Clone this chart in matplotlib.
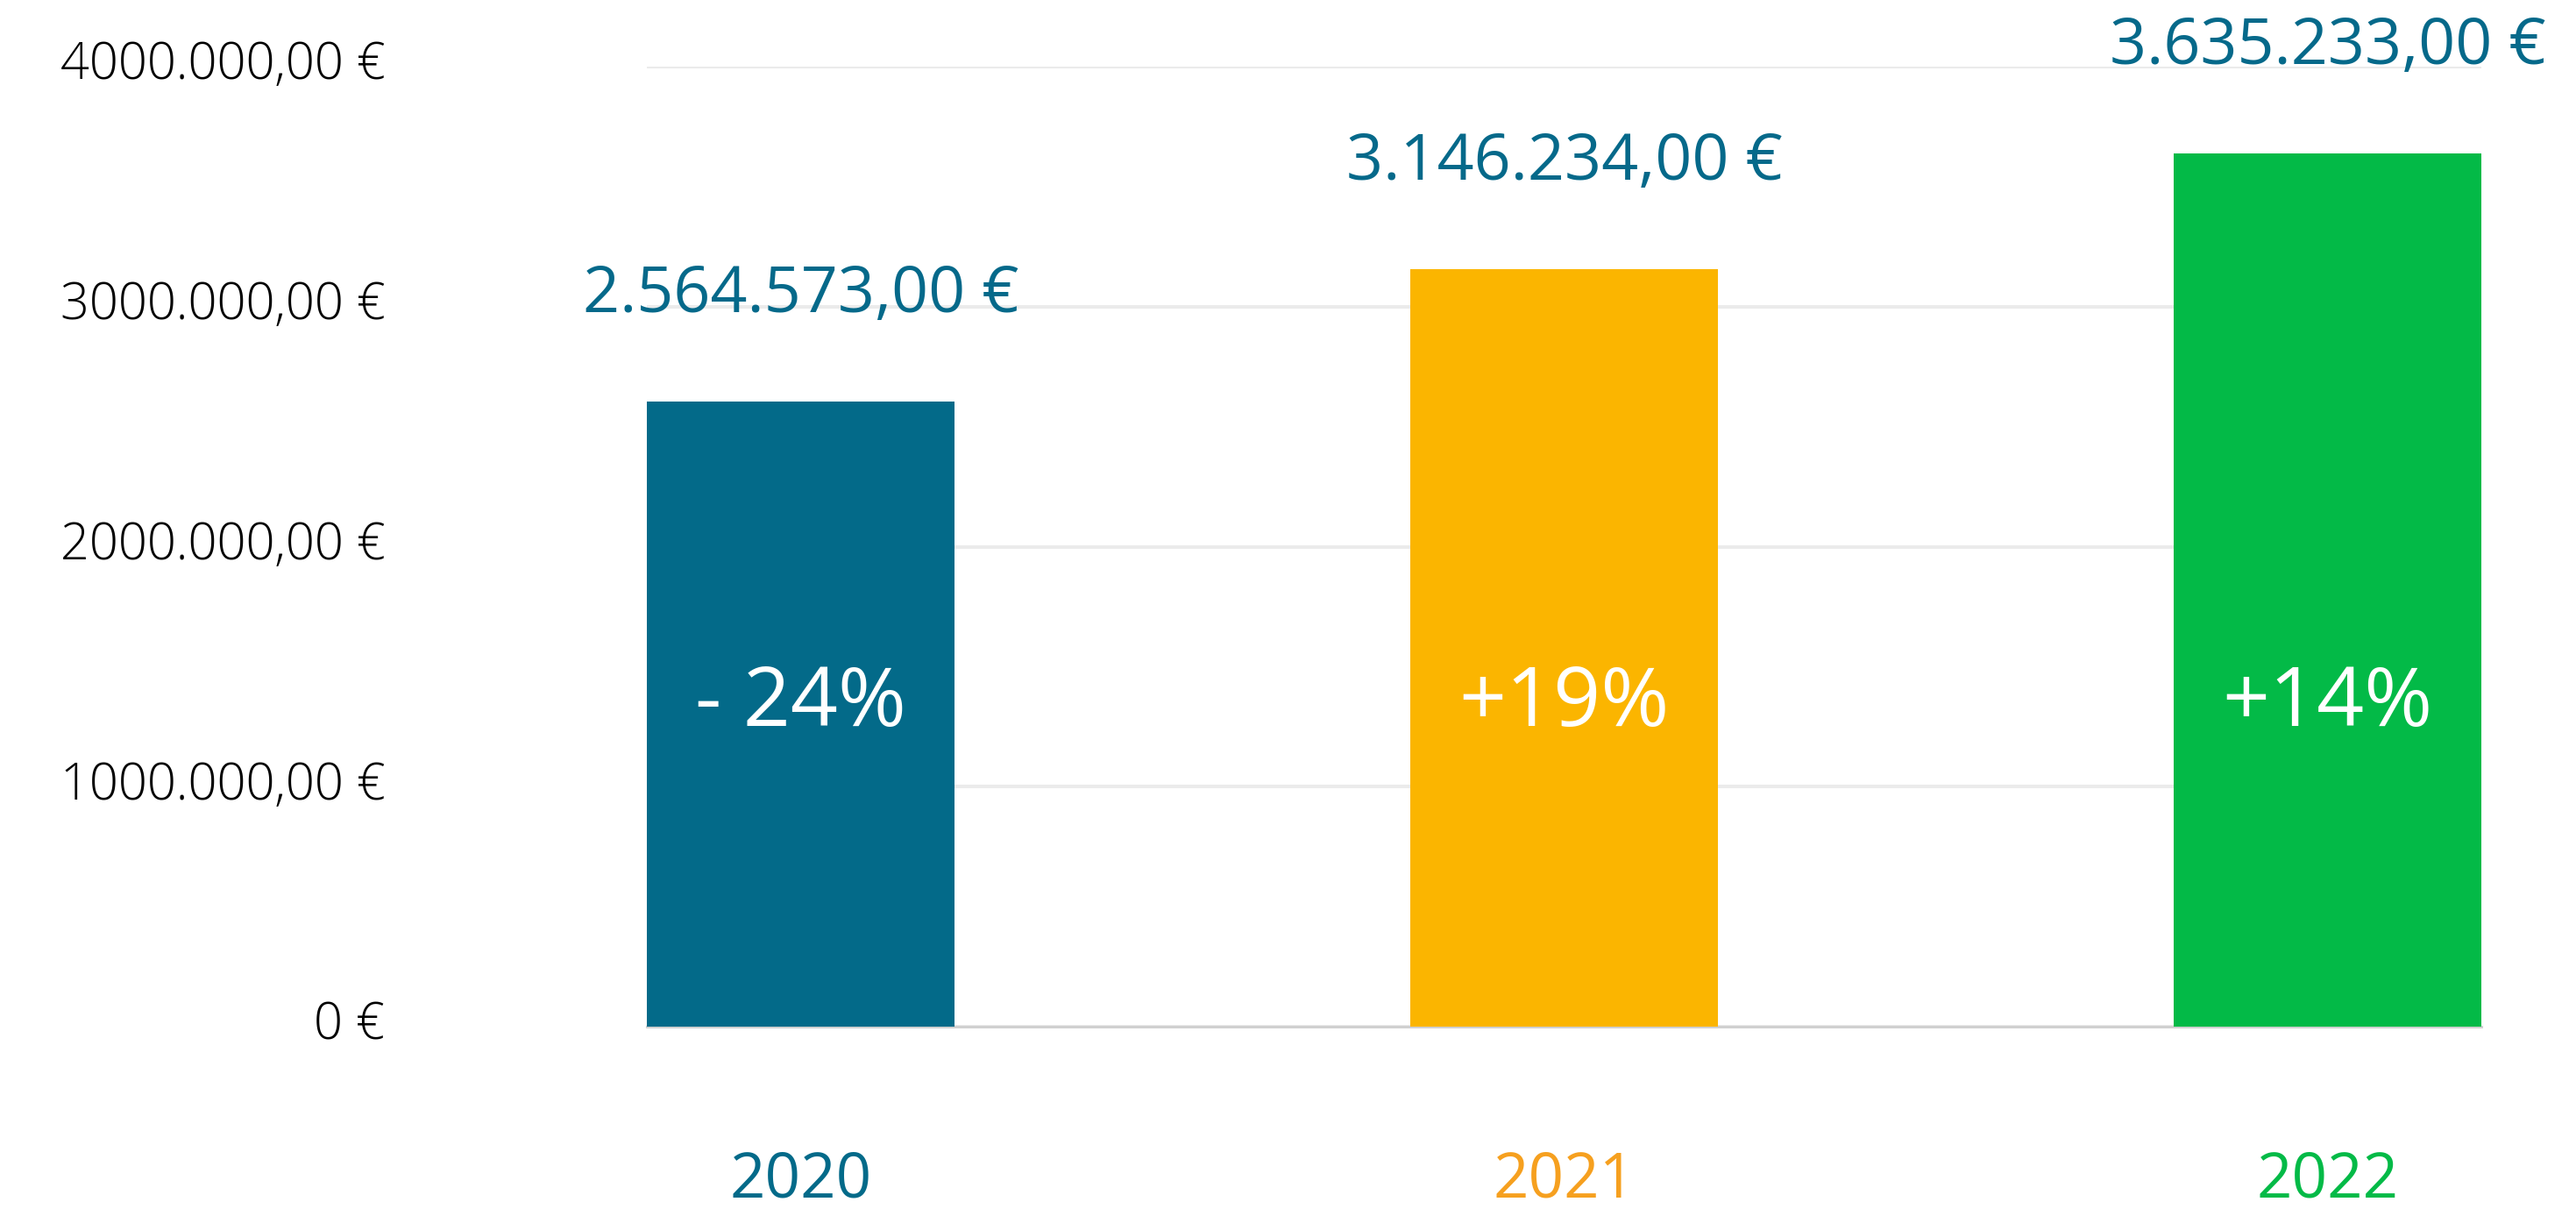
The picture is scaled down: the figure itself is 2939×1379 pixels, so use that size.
import numpy as np
import matplotlib.pyplot as plt
import matplotlib.transforms as mtransforms

# Dati del grafico
anni = ['2020', '2021', '2022']
fatturato = [2604000, 3156000, 3640000]  # altezza barre
etichette_valore = ['2.564.573,00 €', '3.146.234,00 €', '3.635.233,00 €']
variazioni = ['- 24%', '+19%', '+14%']
tick_valori = [0, 1000000, 2000000, 3000000, 4000000]
tick_etichette = ['0 €', '1000.000,00 €', '2000.000,00 €', '3000.000,00 €', '4000.000,00 €']

colori_barre = ['#036A89', '#FBB500', '#03BA47']
colori_anni = ['#036A89', '#F6A01F', '#03BA47']
colore_valori = '#05698A'

plt.rcParams['font.family'] = ['Open Sans', 'DejaVu Sans']

fig = plt.figure(figsize=(29.39, 13.79), dpi=100)
ax = fig.add_axes([0.2511, 0.1508, 0.9633 - 0.2511, 0.9449 - 0.1508])

x = np.arange(len(anni))
barre = ax.bar(x, fatturato, width=0.403, color=colori_barre, zorder=3)

ax.set_xlim(-0.2015, 2.2015)
ax.set_ylim(0, 4000000)

# Griglia orizzontale
ax.set_yticks(tick_valori, tick_etichette)
ax.yaxis.grid(True, color='#EBEBEB', linewidth=2.9, zorder=0)
ax.tick_params(axis='y', length=0, pad=215, labelsize=41.5, labelcolor='black')
sposta_su = mtransforms.ScaledTranslation(0, 0.08, fig.dpi_scale_trans)
for t in ax.get_yticklabels():
    t.set_fontweight('light')
    t.set_transform(t.get_transform() + sposta_su)

# Etichette anni
ax.set_xticks(x, anni)
ax.tick_params(axis='x', length=0, pad=101, labelsize=51)
for t, c in zip(ax.get_xticklabels(), colori_anni):
    t.set_color(c)
    t.set_fontweight('medium')

for s in ['top', 'right', 'left']:
    ax.spines[s].set_visible(False)
ax.spines['bottom'].set_color('#D0D0D0')
ax.spines['bottom'].set_linewidth(2.2)
ax.spines['bottom'].set_zorder(2)

# Valori sopra le barre
for xi, val, lab in zip(x, fatturato, etichette_valore):
    ax.annotate(lab, (xi, val), xytext=(0, 102), textcoords='offset pixels',
                ha='center', va='baseline', fontsize=53, color=colore_valori,
                annotation_clip=False, zorder=4)

# Variazioni percentuali dentro le barre
trans = mtransforms.blended_transform_factory(ax.transData, ax.transAxes)
for xi, v in zip(x, variazioni):
    ax.text(xi, 0.313, v, transform=trans, ha='center', va='baseline',
            fontsize=68, color='white', zorder=5)

fig.savefig('out.png', dpi=100)
